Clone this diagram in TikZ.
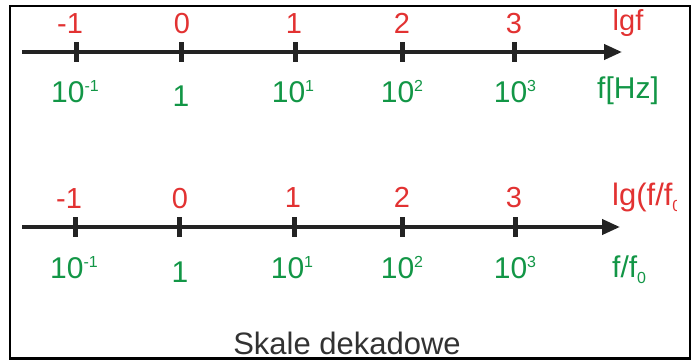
\documentclass[tikz,border=0pt]{standalone}
\usepackage{fontspec}
\setmainfont{Liberation Sans}
\usetikzlibrary{arrows.meta}
\definecolor{lred}{RGB}{226,50,50}
\definecolor{lgreen}{RGB}{18,150,70}
\definecolor{axisc}{RGB}{35,35,35}
\definecolor{titlec}{RGB}{50,50,50}
\newcommand\supx[1]{\raisebox{11pt}{\fontsize{16}{16}\selectfont #1}}
\newcommand\subx[1]{\raisebox{-6pt}{\fontsize{16}{16}\selectfont #1}}
\begin{document}
\begin{tikzpicture}[x=1pt,y=-1pt,
  redlab/.style={text=lred,font=\fontsize{29}{29}\selectfont,anchor=base,inner sep=0pt},
  greenlab/.style={text=lgreen,font=\fontsize{30}{30}\selectfont,anchor=base,inner sep=0pt},
  axisline/.style={draw=axisc,line width=4pt,-{Triangle[length=18pt,width=15pt]}},
  tickmark/.style={draw=axisc,line width=5pt},
  frame/.style={draw=black,line width=2.2pt},
  titlelab/.style={text=titlec,font=\fontsize{31}{31}\selectfont,anchor=base,inner sep=0pt}]
\useasboundingbox (0,0) rectangle (694,360);
% axis 1
\coordinate (a1s) at (22,52);
\coordinate (a1e) at (622,52);
\draw[axisline] (a1s) -- (a1e);
\foreach \x/\n in {76/m, 181/z, 295/o, 402/t, 514/h}{
  \coordinate (t1\n a) at (\x,42);
  \coordinate (t1\n b) at (\x,62);
  \draw[tickmark] (t1\n a) -- (t1\n b);
}
\node[redlab] (r1m) at (70,33) {-1};
\node[redlab] (r1z) at (182,33) {0};
\node[redlab] (r1o) at (294,33) {1};
\node[redlab] (r1t) at (402,33) {2};
\node[redlab] (r1h) at (514,33) {3};
\node[redlab] (r1l) at (628,30) {lgf};
\node[greenlab] (g1m) at (75,102) {10\supx{-1}};
\node[greenlab] (g1z) at (181,106) {1};
\node[greenlab] (g1o) at (293,102) {10\supx{1}};
\node[greenlab] (g1t) at (402,102) {10\supx{2}};
\node[greenlab] (g1h) at (515,102) {10\supx{3}};
\node[greenlab] (g1l) at (628,98) {f[Hz]};
% axis 2
\coordinate (a2s) at (22,227);
\coordinate (a2e) at (620,227);
\draw[axisline] (a2s) -- (a2e);
\foreach \x/\n in {75/m, 179/z, 294/o, 402/t, 515/h}{
  \coordinate (t2\n a) at (\x,217);
  \coordinate (t2\n b) at (\x,237);
  \draw[tickmark] (t2\n a) -- (t2\n b);
}
\node[redlab] (r2m) at (69,208) {-1};
\node[redlab] (r2z) at (180,208) {0};
\node[redlab] (r2o) at (293,207) {1};
\node[redlab] (r2t) at (402,207) {2};
\node[redlab] (r2h) at (514,207) {3};
\begin{scope}
\clip (0,0) rectangle (676,360);
\node[redlab,anchor=base west,font=\fontsize{31}{31}\selectfont] (r2l) at (612,205) {lg(f/f\subx{0})};
\end{scope}
\node[greenlab] (g2m) at (74,278) {10\supx{-1}};
\node[greenlab] (g2z) at (180,282) {1};
\node[greenlab] (g2o) at (292,278) {10\supx{1}};
\node[greenlab] (g2t) at (402,278) {10\supx{2}};
\node[greenlab] (g2h) at (515,278) {10\supx{3}};
\node[greenlab,anchor=base west] (g2l) at (612,277) {f/f\subx{0}};
% title
\node[titlelab] (title) at (347,354) {Skale dekadowe};
% frame
\draw[frame] (10,6) rectangle (690,358.5);
\end{tikzpicture}
\end{document}
